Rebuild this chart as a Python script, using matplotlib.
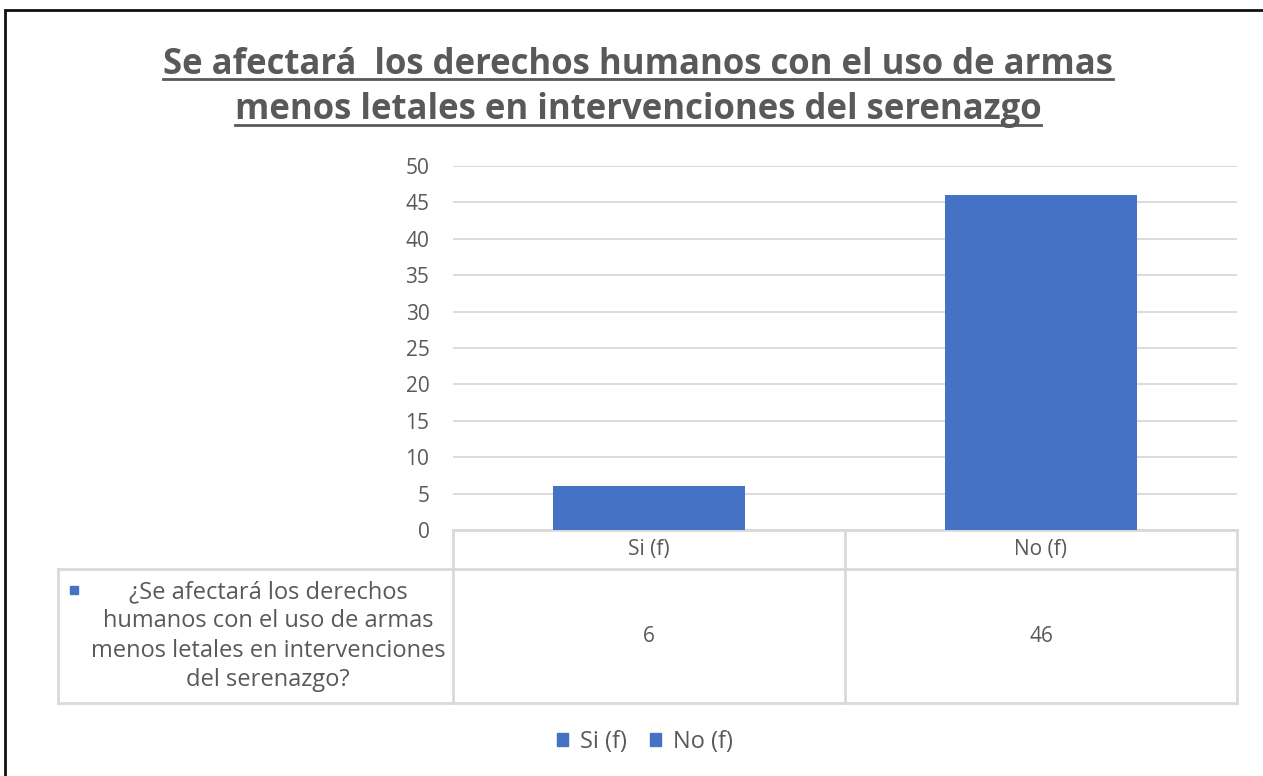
import matplotlib
matplotlib.use('Agg')
import matplotlib.pyplot as plt
from matplotlib.patches import Patch, Rectangle
from matplotlib.lines import Line2D
from matplotlib.transforms import blended_transform_factory

plt.rcParams['font.family'] = ['Open Sans', 'DejaVu Sans']

# data
categories = ['Si (f)', 'No (f)']
values = [6, 46]
series_label = '¿Se afectará los derechos\nhumanos con el uso de armas\nmenos letales en intervenciones\ndel serenazgo?'
title_lines = ['Se afectará  los derechos humanos con el uso de armas',
               'menos letales en intervenciones del serenazgo']

BAR = '#4472C4'
TXT = '#595959'
GRID = '#d9d9d9'
W, H = 1263, 776
FS = 15

fig = plt.figure(figsize=(W / 100, H / 100), dpi=100)

# outer black border (left and top visible)
fig.add_artist(Rectangle((5 / W, -0.05), 1.2, 1 - 10 / H + 0.05,
                         transform=fig.transFigure, fill=False,
                         edgecolor='#111111', linewidth=2))

ax = fig.add_axes([453 / W, 1 - 530 / H, 784 / W, 364 / H])
x = list(range(len(categories)))
ax.bar(x, values, width=0.49, color=BAR, zorder=3)
ax.set_xlim(-0.5, len(categories) - 0.5)
ax.set_ylim(0, 50)
ax.set_yticks(range(0, 51, 5))
ax.tick_params(axis='y', length=0, pad=17, labelsize=FS, labelcolor=TXT)
ax.set_xticks([])
ax.grid(axis='y', color=GRID, linewidth=1.3, zorder=0)
for s in ax.spines.values():
    s.set_visible(False)

# data table under the chart
tr = blended_transform_factory(ax.transData, ax.transAxes)
hdr = -39 / 364
bot = -173 / 364
lkw = dict(color=GRID, linewidth=2, clip_on=False, transform=tr, zorder=1)
ax.plot([-0.5, 1.5], [0, 0], **lkw)
ax.plot([-0.5, 1.5], [hdr, hdr], **lkw)
ax.plot([-0.5, 1.5], [bot, bot], **lkw)
for xv in [-0.5, 0.5, 1.5]:
    ax.plot([xv, xv], [0, bot], **lkw)
left = (58 - 453) / 784  # axes fraction
ta = ax.transAxes
ax.plot([left, 0], [hdr, hdr], color=GRID, linewidth=2, clip_on=False, transform=ta)
ax.plot([left, 0], [bot, bot], color=GRID, linewidth=2, clip_on=False, transform=ta)
ax.plot([left, left], [hdr, bot], color=GRID, linewidth=2, clip_on=False, transform=ta)

for i, (c, v) in enumerate(zip(categories, values)):
    ax.text(i, hdr / 2, c, transform=tr, ha='center', va='center',
            fontsize=FS, color=TXT)
    ax.text(i, (hdr + bot) / 2, str(v), transform=tr, ha='center', va='center',
            fontsize=FS, color=TXT)

ax.text((268 - 453) / 784, (hdr + bot) / 2, series_label, transform=ta,
        ha='center', va='center', fontsize=17, color=TXT, linespacing=1.3,
        multialignment='center')
ax.add_patch(Rectangle(((70 - 453) / 784, (530 - 594) / 364), 8 / 784, 8 / 364,
                       transform=ta, color=BAR, clip_on=False))

# legend
handles = [Patch(color=BAR, label=c) for c in categories]
fig.legend(handles=handles, loc='center', bbox_to_anchor=(645 / W, 1 - 742 / H),
           ncol=2, frameon=False, fontsize=17, labelcolor=TXT,
           handlelength=0.45, handleheight=0.45, handletextpad=0.5, columnspacing=1.0)

# title with underline
title_y = [65, 110]
texts = []
for line, yy in zip(title_lines, title_y):
    texts.append(fig.text(638 / W, 1 - yy / H, line, ha='center', va='center',
                          fontsize=25, fontweight='bold', color=TXT))
fig.canvas.draw()
r = fig.canvas.get_renderer()
for t, uy in zip(texts, [79, 125]):
    bb = t.get_window_extent(r)
    fig.add_artist(Line2D([bb.x0 / W, bb.x1 / W], [1 - uy / H, 1 - uy / H],
                          transform=fig.transFigure, color=TXT, linewidth=2))

fig.savefig('out.png', dpi=100)
